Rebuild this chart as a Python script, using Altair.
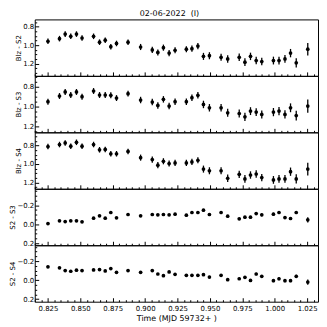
import altair as alt
import pandas as pd

# Time (MJD 59732+)
t = [0.8250, 0.8339, 0.8383, 0.8426, 0.8470, 0.8513, 0.8602, 0.8648, 0.8692,
     0.8735, 0.8779, 0.8868, 0.8965, 0.9055, 0.9098, 0.9141, 0.9185, 0.9231,
     0.9318, 0.9361, 0.9407, 0.9450, 0.9496, 0.9586, 0.9637, 0.9726, 0.9770,
     0.9813, 0.9857, 0.9900, 0.9990, 1.0033, 1.0079, 1.0122, 1.0166, 1.0255]

blz_s2 = [0.957, 0.929, 0.880, 0.904, 0.880, 0.922, 0.904, 0.967, 0.946,
          1.016, 0.981, 0.967, 1.019, 1.050, 1.078, 1.026, 1.085, 1.054,
          1.043, 1.037, 1.009, 1.120, 1.113, 1.130, 1.148, 1.130, 1.183,
          1.120, 1.165, 1.176, 1.165, 1.165, 1.148, 1.085, 1.190, 1.043]

blz_s3 = [0.950, 0.892, 0.851, 0.882, 0.851, 0.899, 0.841, 0.882, 0.882,
          0.885, 0.913, 0.868, 0.933, 0.954, 0.988, 0.926, 0.995, 0.950,
          0.950, 0.909, 0.885, 0.978, 1.012, 1.012, 1.063, 1.070, 1.104,
          1.046, 1.056, 1.080, 1.056, 1.046, 1.080, 1.012, 1.091, 0.995]

blz_s4 = [0.811, 0.789, 0.772, 0.807, 0.765, 0.807, 0.789, 0.846, 0.842,
          0.889, 0.889, 0.864, 0.931, 0.952, 1.012, 0.970, 0.995, 0.988,
          0.988, 0.977, 0.959, 1.055, 1.073, 1.073, 1.154, 1.112, 1.161,
          1.119, 1.108, 1.147, 1.172, 1.161, 1.161, 1.083, 1.161, 1.055]

s2_s3 = [-0.007, -0.035, -0.028, -0.035, -0.035, -0.025, -0.063, -0.088, -0.063,
         -0.123, -0.067, -0.102, -0.088, -0.102, -0.098, -0.102, -0.098, -0.105,
         -0.095, -0.123, -0.123, -0.147, -0.102, -0.123, -0.084, -0.056, -0.074,
         -0.074, -0.112, -0.098, -0.105, -0.123, -0.070, -0.060, -0.123, -0.046]

s2_s4 = [-0.139, -0.129, -0.100, -0.093, -0.104, -0.100, -0.107, -0.111, -0.096,
         -0.121, -0.082, -0.100, -0.082, -0.100, -0.064, -0.046, -0.086, -0.061,
         -0.050, -0.050, -0.050, -0.057, -0.032, -0.050, -0.004, -0.014, -0.029,
         0.004, -0.064, -0.039, 0.007, -0.014, 0.007, 0.007, -0.039, 0.021]

err_blz = [0.030, 0.030, 0.030, 0.030, 0.030, 0.030, 0.030, 0.030, 0.030,
           0.030, 0.030, 0.030, 0.033, 0.033, 0.033, 0.033, 0.033, 0.033,
           0.033, 0.033, 0.033, 0.038, 0.038, 0.038, 0.040, 0.040, 0.042,
           0.040, 0.040, 0.040, 0.042, 0.042, 0.042, 0.045, 0.050, 0.068]

err_ss = [0.012, 0.010, 0.010, 0.010, 0.010, 0.010, 0.010, 0.010, 0.010,
          0.010, 0.010, 0.010, 0.010, 0.010, 0.010, 0.010, 0.010, 0.010,
          0.012, 0.012, 0.012, 0.012, 0.012, 0.012, 0.013, 0.013, 0.013,
          0.013, 0.014, 0.014, 0.015, 0.015, 0.015, 0.015, 0.016, 0.028]

panel_titles = ["Blz - S2", "Blz - S3", "Blz - S4", "S2 - S3", "S2 - S4"]
panel_values = [blz_s2, blz_s3, blz_s4, s2_s3, s2_s4]
panel_errors = [err_blz, err_blz, err_blz, err_ss, err_ss]
panel_domains = [[0.722, 1.330], [0.687, 1.262], [0.657, 1.268],
                 [-0.372, 0.221], [-0.367, 0.228]]

x_domain = [0.8148, 1.0334]
x_ticks = [round(0.815 + 0.005 * i, 3) for i in range(44)]

FONT = "DejaVu Sans"
x_major_test = "abs(round(datum.value * 200)) % 5 == 0"
y_major_test = "abs(round(datum.value * 20)) % 4 == 0"

panels = []
n = len(panel_titles)
for i in range(n):
    bottom = i == n - 1
    vals = panel_values[i]
    errs = panel_errors[i]
    df = pd.DataFrame({
        "t": t,
        "v": vals,
        "lo": [v - e for v, e in zip(vals, errs)],
        "hi": [v + e for v, e in zip(vals, errs)],
    })
    lo_d, hi_d = panel_domains[i]
    y_ticks = [round(k * 0.05, 2) for k in range(int(lo_d / 0.05) - 1, int(hi_d / 0.05) + 2)
               if lo_d <= k * 0.05 <= hi_d]

    x_tick_size = {"condition": {"test": x_major_test, "value": -4}, "value": -2}
    if bottom:
        x_axis = alt.Axis(
            values=x_ticks,
            labelExpr=f"{x_major_test} ? format(datum.value, '.3f') : ''",
            labelOverlap=False,
            labelFont=FONT,
            labelFontSize=7,
            labelColor="black",
            labelPadding=7,
            title="Time (MJD 59732+ )",
            titleFont=FONT,
            titleFontSize=8,
            titleFontWeight="normal",
            titleColor="black",
            titlePadding=1,
            domain=False,
            grid=False,
            tickColor="black",
            tickWidth=1,
            tickSize=x_tick_size,
        )
    else:
        x_axis = alt.Axis(
            values=x_ticks,
            labels=False,
            title=None,
            domain=False,
            grid=False,
            tickColor="black",
            tickWidth=1,
            tickSize=x_tick_size,
        )
    y_axis = alt.Axis(
        values=y_ticks,
        labelExpr=f"{y_major_test} ? format(datum.value, '.1f') : ''",
        labelOverlap=False,
        labelFont=FONT,
        labelFontSize=7,
        labelColor="black",
        labelPadding=5,
        title=panel_titles[i],
        titleFont=FONT,
        titleFontSize=7,
        titleFontWeight="normal",
        titleColor="black",
        titlePadding=1,
        domain=False,
        grid=False,
        tickColor="black",
        tickWidth=1,
        tickSize={"condition": {"test": y_major_test, "value": -4}, "value": -2},
    )

    base = alt.Chart(df)
    x_enc = alt.X("t:Q", scale=alt.Scale(domain=x_domain, nice=False, zero=False), axis=x_axis)
    y_scale = alt.Scale(domain=panel_domains[i], nice=False, zero=False, reverse=True)

    bars = base.mark_rule(color="black", strokeWidth=1.3).encode(
        x=x_enc,
        y=alt.Y("lo:Q", scale=y_scale, axis=y_axis),
        y2="hi:Q",
    )
    pts = base.mark_circle(color="black", opacity=1, size=14).encode(
        x=x_enc,
        y=alt.Y("v:Q", scale=y_scale, axis=y_axis),
    )
    panels.append(alt.layer(bars, pts).properties(width=286, height=57))

chart = alt.vconcat(*panels, spacing=0, bounds="flush").properties(
    title=alt.TitleParams(
        "02-06-2022\u00a0\u00a0(I)",
        font=FONT, fontSize=8, fontWeight="normal", color="black",
        anchor="middle", offset=0, dx=6,
    ),
    padding=0,
).configure_view(stroke="black", strokeWidth=1).configure_concat(spacing=0)

chart.save("out.html", embed_options={"renderer": "svg", "actions": False})
